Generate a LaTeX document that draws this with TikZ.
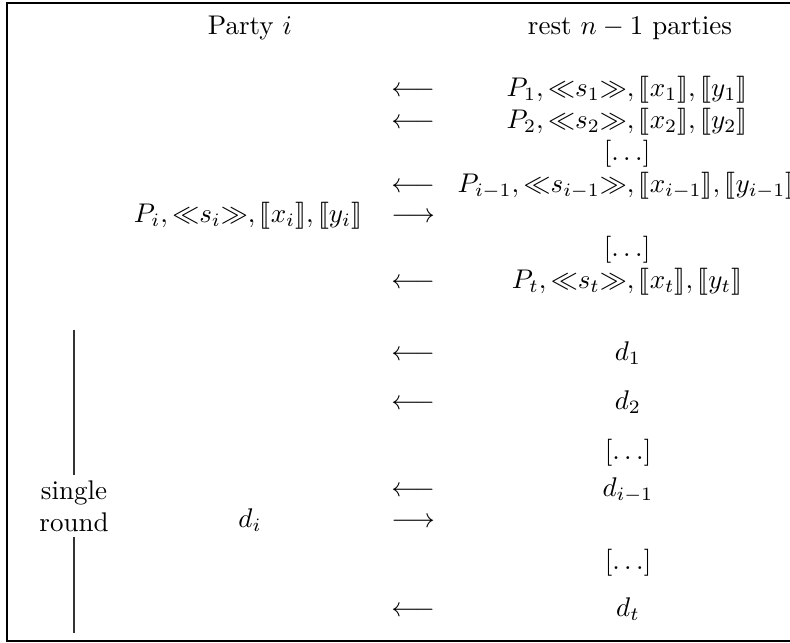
\documentclass[tikz,border=0pt]{standalone}
\usepackage{amsmath}
\usepackage{stmaryrd}
\newcommand{\shv}[1]{\mathopen{\ll}#1\mathclose{\gg}}
\newcommand{\bkt}[1]{\llbracket #1\rrbracket}
\newcommand{\rowv}[1]{P_{#1},\shv{s_{#1}},\bkt{x_{#1}},\bkt{y_{#1}}}
\begin{document}
\begin{tikzpicture}[x=0.3704pt,y=-0.3704pt,
  lbl/.style={inner sep=0pt,text height=7.5pt,text depth=2.5pt},
  frameline/.style={line width=0.4pt},
  roundline/.style={line width=0.4pt,draw=black!80}]
\useasboundingbox (0,0) rectangle (790,643);
\draw[frameline] (805,3) -- (7,3) -- (7,641) -- (805,641);
% headers
\node[lbl] (hl) at (250,28) {Party $i$};
\node[lbl] (hr) at (630,28) {rest $n-1$ parties};
% top block
\node[lbl] (a1) at (413,90) {$\longleftarrow$};
\node[lbl] (r1) at (627,90) {$\rowv{1}$};
\node[lbl] (a2) at (413,122) {$\longleftarrow$};
\node[lbl] (r2) at (627,122) {$\rowv{2}$};
\node[lbl] (r3) at (627,154) {$[\ldots]$};
\node[lbl] (a4) at (413,186) {$\longleftarrow$};
\node[lbl] (r4) at (627,186) {$\rowv{i-1}$};
\node[lbl] (pi) at (248,216) {$\rowv{i}$};
\node[lbl] (a5) at (413,216) {$\longrightarrow$};
\node[lbl] (r6) at (627,250) {$[\ldots]$};
\node[lbl] (a7) at (413,282) {$\longleftarrow$};
\node[lbl] (r7) at (627,282) {$\rowv{t}$};
% bottom block
\node[lbl] (b1) at (413,354) {$\longleftarrow$};
\node[lbl] (d1) at (628,354) {$d_1$};
\node[lbl] (b2) at (413,403) {$\longleftarrow$};
\node[lbl] (d2) at (628,403) {$d_2$};
\node[lbl] (d3) at (628,453) {$[\ldots]$};
\node[lbl] (b4) at (413,490) {$\longleftarrow$};
\node[lbl] (d4) at (628,490) {$d_{i-1}$};
\node[lbl] (di) at (250,521) {$d_i$};
\node[lbl] (b5) at (413,521) {$\longrightarrow$};
\node[lbl] (d6) at (628,563) {$[\ldots]$};
\node[lbl] (b7) at (413,610) {$\longleftarrow$};
\node[lbl] (d7) at (628,610) {$d_t$};
% single round
\node[align=center,inner xsep=0pt,inner ysep=1.6pt] (sr) at (74,506) {single\\round};
\coordinate (ltop) at (74,330);
\coordinate (lbot) at (74,633);
\draw[roundline] (ltop) -- (sr.north);
\draw[roundline] (sr.south) -- (lbot);
\end{tikzpicture}
\end{document}
